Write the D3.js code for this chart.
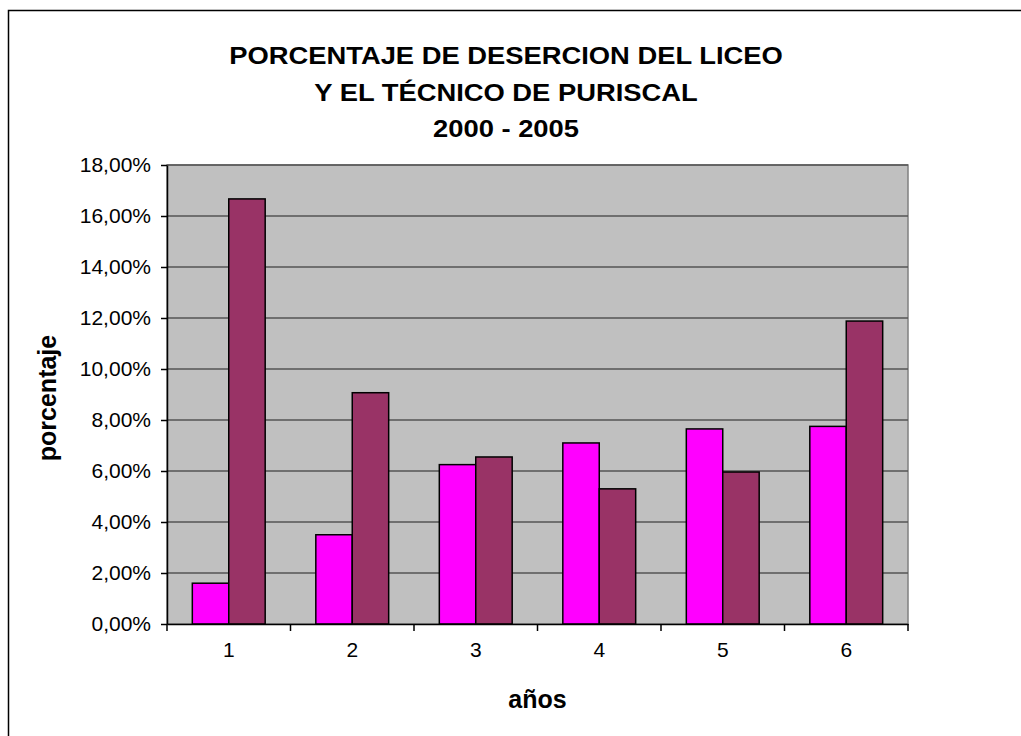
<!DOCTYPE html>
<html>
<head>
<meta charset="utf-8">
<script src="https://cdn.jsdelivr.net/npm/d3@7"></script>
<style>
  body { margin: 0; background: #fff; }
  text { font-family: "Liberation Sans", Arial, sans-serif; }
</style>
</head>
<body>
<div id="chart"></div>
<script>
// data
const years = ["1", "2", "3", "4", "5", "6"];
const liceo = [0.016, 0.035, 0.0625, 0.071, 0.0765, 0.0775];
const tecnico = [0.1667, 0.0907, 0.0655, 0.053, 0.0596, 0.1188];
const yTicks = [0, 0.02, 0.04, 0.06, 0.08, 0.10, 0.12, 0.14, 0.16, 0.18];
const titleLines = ["PORCENTAJE DE DESERCION DEL LICEO", "Y EL TÉCNICO DE PURISCAL", "2000 - 2005"];

const W = 1021, H = 736;
const plot = { left: 167, top: 165, right: 908, bottom: 624 };

const svg = d3.select("#chart").append("svg")
    .attr("width", W)
    .attr("height", H);

// outer frame
svg.append("rect")
    .attr("x", 8.5).attr("y", 10.5)
    .attr("width", 1200).attr("height", 900)
    .attr("fill", "#fff")
    .attr("stroke", "#000")
    .attr("stroke-width", 1.5);

const x = d3.scaleBand()
    .domain(years)
    .range([plot.left, plot.right]);

const y = d3.scaleLinear()
    .domain([0, 0.18])
    .range([plot.bottom, plot.top]);

// plot background
svg.append("rect")
    .attr("x", plot.left).attr("y", plot.top)
    .attr("width", plot.right - plot.left)
    .attr("height", plot.bottom - plot.top)
    .attr("fill", "#c0c0c0")
    .attr("stroke", "#808080")
    .attr("stroke-width", 1.5);

// gridlines
svg.append("g")
    .selectAll("line")
    .data(yTicks.slice(1))
    .enter().append("line")
    .attr("x1", plot.left).attr("x2", plot.right)
    .attr("y1", d => y(d)).attr("y2", d => y(d))
    .attr("stroke", "#555")
    .attr("stroke-width", 1.5);

// bars
const gap = x.bandwidth() * 0.41;
const barW = (x.bandwidth() - gap) / 2;

const groups = svg.append("g")
    .selectAll("g")
    .data(years)
    .enter().append("g");

groups.append("rect")
    .attr("x", (d, i) => x(d) + gap / 2)
    .attr("y", (d, i) => y(liceo[i]))
    .attr("width", barW)
    .attr("height", (d, i) => y(0) - y(liceo[i]))
    .attr("fill", "#ff00ff")
    .attr("stroke", "#000")
    .attr("stroke-width", 1.5);

groups.append("rect")
    .attr("x", (d, i) => x(d) + gap / 2 + barW)
    .attr("y", (d, i) => y(tecnico[i]))
    .attr("width", barW)
    .attr("height", (d, i) => y(0) - y(tecnico[i]))
    .attr("fill", "#993366")
    .attr("stroke", "#000")
    .attr("stroke-width", 1.5);

// y axis
const fmt = d => d3.format(".2f")(d * 100).replace(".", ",") + "%";
const yAxis = svg.append("g")
    .attr("transform", "translate(" + plot.left + ",0)")
    .call(d3.axisLeft(y).tickValues(yTicks).tickFormat(fmt).tickSize(6).tickSizeOuter(0).tickPadding(10));
yAxis.select(".domain").attr("stroke", "#000").attr("stroke-width", 1.5);
yAxis.selectAll(".tick line").attr("stroke", "#000").attr("stroke-width", 1.5);
yAxis.selectAll(".tick text")
    .style("font-size", "21px")
    .attr("fill", "#000");

// x axis
const xAxis = svg.append("g")
    .attr("transform", "translate(0," + plot.bottom + ")")
    .call(d3.axisBottom(x).tickSize(0).tickSizeOuter(0).tickPadding(18));
xAxis.select(".domain").attr("stroke", "#000").attr("stroke-width", 1.5);
xAxis.selectAll(".tick text")
    .style("font-size", "21px")
    .attr("fill", "#000");

// category boundary ticks
svg.append("g")
    .selectAll("line")
    .data(years.concat(["end"]))
    .enter().append("line")
    .attr("x1", (d, i) => plot.left + i * x.step())
    .attr("x2", (d, i) => plot.left + i * x.step())
    .attr("y1", plot.bottom)
    .attr("y2", plot.bottom + 7)
    .attr("stroke", "#000")
    .attr("stroke-width", 1.5);

// title
const title = svg.append("g");
const titleY = [64, 101, 137];
const tl = title.selectAll("text")
    .data(titleLines)
    .enter().append("text")
    .attr("x", 0)
    .attr("y", (d, i) => titleY[i])
    .attr("text-anchor", "middle")
    .style("font-size", "24px")
    .style("font-weight", "bold")
    .text(d => d);
const w0 = tl.node().getComputedTextLength();
const sx = 554 / w0;
title.attr("transform", "translate(506,0) scale(" + sx + ",1)");

// axis titles
svg.append("text")
    .attr("x", (plot.left + plot.right) / 2)
    .attr("y", 708)
    .attr("text-anchor", "middle")
    .style("font-size", "25px")
    .style("font-weight", "bold")
    .text("años");

svg.append("text")
    .attr("transform", "translate(56,398) rotate(-90)")
    .attr("text-anchor", "middle")
    .style("font-size", "25px")
    .style("font-weight", "bold")
    .text("porcentaje");
</script>
</body>
</html>
